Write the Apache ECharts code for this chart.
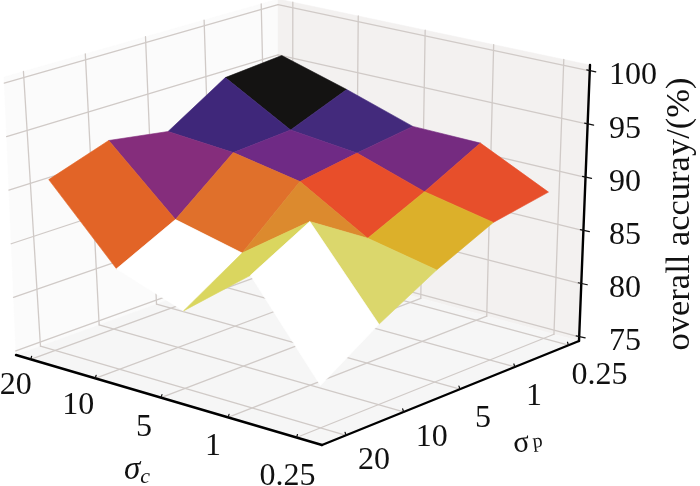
<!DOCTYPE html><html><head><meta charset="utf-8"><style>html,body{margin:0;background:#fff}#c{width:700px;height:486px;filter:blur(.35px)}</style>
<script src="https://cdn.jsdelivr.net/npm/echarts@6/dist/echarts.min.js"></script></head><body><div id="c"></div><script>
const sigmaC=['20','10','5','1','0.25'];
const sigmaP=['0.25','1','5','10','20'];
const zTicks=[75,80,85,90,95,100];
const accP025=[95.6,93.7,91.6,91.5,88.4];
const accP1=[95.1,91.5,90.8,88.7,87.4];
const accP5=[91.6,91.1,89.9,86.2,84.9];
const accP10=[92.5,86.6,85.1,89.6,81.9];
const accP20=[90.6,83.9,81.7,86.6,78.4];
const accuracy=[accP025,accP1,accP5,accP10,accP20];
const faceColors=[['#141312','#432a7c','#752b80','#e74f2b'],['#3f277a','#6f2a85','#e84e2a','#dcb02a'],['#852d7c','#e0702b','#dc8a2e','#dbd76c'],['#e26427','#ffffff','#dad65f','#ffffff']];
function quad(q){const [[x0,y0],[x1,y1],[x2,y2],[x3,y3]]=q;
const dx1=x1-x2,dy1=y1-y2,dx2=x3-x2,dy2=y3-y2,sx=x0-x1+x2-x3,sy=y0-y1+y2-y3,det=dx1*dy2-dx2*dy1;
const al=(sx*dy2-dx2*sy)/det,be=(dx1*sy-sx*dy1)/det;
return (u,v)=>{const d=1+al*u+be*v;return [(x0+(x1-x0+al*x1)*u+(x3-x0+be*x3)*v)/d,(y0+(y1-y0+al*y1)*u+(y3-y0+be*y3)*v)/d];};}
const floorH=quad([[278,260],[579,341],[322,445],[16,355]]);
const ceilH=quad([[278,-1],[590,65],[321,152],[4,77]]);
function P(u,v,w){const f=floorH(u,v),t=ceilH(u,v);return [f[0]+w*(t[0]-f[0]),f[1]+w*(t[1]-f[1])];}
const U=i=>.05+.2175*i,V=j=>.043+.217*j,W=z=>(z-74.62)/25.94;
const cells=[];for(let s=0;s<=6;s++)for(let j=0;j<4;j++){const i=s-j;if(i>=0&&i<4)cells.push([i,j]);}
function frame(p,api){const c=a=>api.coord(a),pt=(u,v,w)=>c(P(u,v,w));
const kids=[];
const poly=(pts,fill)=>kids.push({type:'polygon',shape:{points:pts},style:{fill,stroke:fill,lineWidth:.5}});
const seg=(a,b,stroke,lineWidth)=>kids.push({type:'line',shape:{x1:a[0],y1:a[1],x2:b[0],y2:b[1]},style:{stroke,lineWidth,lineCap:'round'}});
const txt=(x,y,text,font,extra)=>kids.push({type:'text',x,y,style:Object.assign({text,font,fill:'#111',align:'center',verticalAlign:'middle'},extra||{})});
poly([pt(0,0,0),pt(0,1,0),pt(0,1,1),pt(0,0,1)],'#fbfbfb');
poly([pt(0,0,0),pt(1,0,0),pt(1,0,1),pt(0,0,1)],'#f3f1f0');
poly([pt(0,0,0),pt(1,0,0),pt(1,1,0),pt(0,1,0)],'#f6f6f6');
const G='#d0cac7';
sigmaC.forEach((_,i)=>{seg(pt(U(i),0,0),pt(U(i),1,0),G,1.3);seg(pt(U(i),0,0),pt(U(i),0,1),G,1.3);});
sigmaP.forEach((_,j)=>{seg(pt(0,V(j),0),pt(1,V(j),0),G,1.3);seg(pt(0,V(j),0),pt(0,V(j)+.022,1),G,1.3);});
zTicks.forEach(z=>{seg(pt(0,1,W(z)),pt(0,0,W(z)),G,1.3);seg(pt(0,0,W(z)),pt(1,0,W(z)),G,1.3);});
seg(pt(0,1,0),pt(1,1,0),'#000',2.4);seg(pt(1,1,0),pt(1,0,0),'#000',2.4);seg(pt(1,0,0),pt(1,0,1),'#000',2.4);
zTicks.forEach(z=>{const a=pt(1,0,W(z));seg([a[0]-3,a[1]-1],[a[0]+6,a[1]+1],'#111',1.2);});
sigmaC.forEach((_,i)=>{const a=pt(U(i),1,0);seg(a,[a[0]+1,a[1]-3],'#111',1.2);});
sigmaP.forEach((_,j)=>{const a=pt(1,V(j),0);seg(a,[a[0]-1,a[1]-3],'#111',1.2);});
const F='32px "Liberation Serif"';
const cOff=[[-15,26],[-17,27],[-17,30],[-15,29],[-9,39]],pOff=[[31,30],[19,30],[23,29],[28,26],[28,25]];
sigmaC.forEach((t,i)=>{const a=pt(U(i),1,0);txt(a[0]+cOff[i][0],a[1]+cOff[i][1],t,F);});
sigmaP.forEach((t,j)=>{const a=pt(1,V(j),0);txt(a[0]+pOff[j][0],a[1]+pOff[j][1],t,F);});
zTicks.forEach(z=>{const a=pt(1,0,W(z));txt(609,a[1]+5,String(z),F,{align:'left'});});
kids.push({type:'text',x:137,y:470,style:{text:'{a|σ}{b|c}',rich:{a:{font:'italic 33px "Liberation Serif"',fill:'#111'},b:{font:'italic 22px "Liberation Serif"',fill:'#111',padding:[14,0,0,0]}},align:'center',verticalAlign:'middle'}});
kids.push({type:'text',x:528,y:443,rotation:.12,style:{text:'{a|σ} {b|p}',rich:{a:{font:'30px "Liberation Serif"',fill:'#111'},b:{font:'20px "Liberation Serif"',fill:'#111'}},align:'center',verticalAlign:'middle'}});
kids.push({type:'text',x:680,y:214,rotation:Math.PI/2,style:{text:'overall accuray/(%)',font:'34.5px "Liberation Serif"',fill:'#111',align:'center',verticalAlign:'middle'}});
return {type:'group',children:kids};}
function face(p,api){const i=api.value(0),j=api.value(1);
const a=(ii,jj)=>api.coord(P(U(ii),V(jj),W(accuracy[jj][ii])));
const col=faceColors[j][i];
return {type:'polygon',shape:{points:[a(i,j),a(i+1,j),a(i+1,j+1),a(i,j+1)]},style:{fill:col,stroke:col,lineWidth:.6}};}
echarts.init(document.getElementById('c')).setOption({animation:false,
grid:{left:0,top:0,width:700,height:486},
xAxis:{type:'value',min:0,max:700,show:false},yAxis:{type:'value',min:0,max:486,inverse:true,show:false},
series:[{type:'custom',coordinateSystem:'cartesian2d',data:[[0,0]],renderItem:frame,silent:true,clip:false,z:1},
{type:'custom',coordinateSystem:'cartesian2d',data:cells,renderItem:face,silent:true,clip:false,z:2}]});
</script></body></html>
